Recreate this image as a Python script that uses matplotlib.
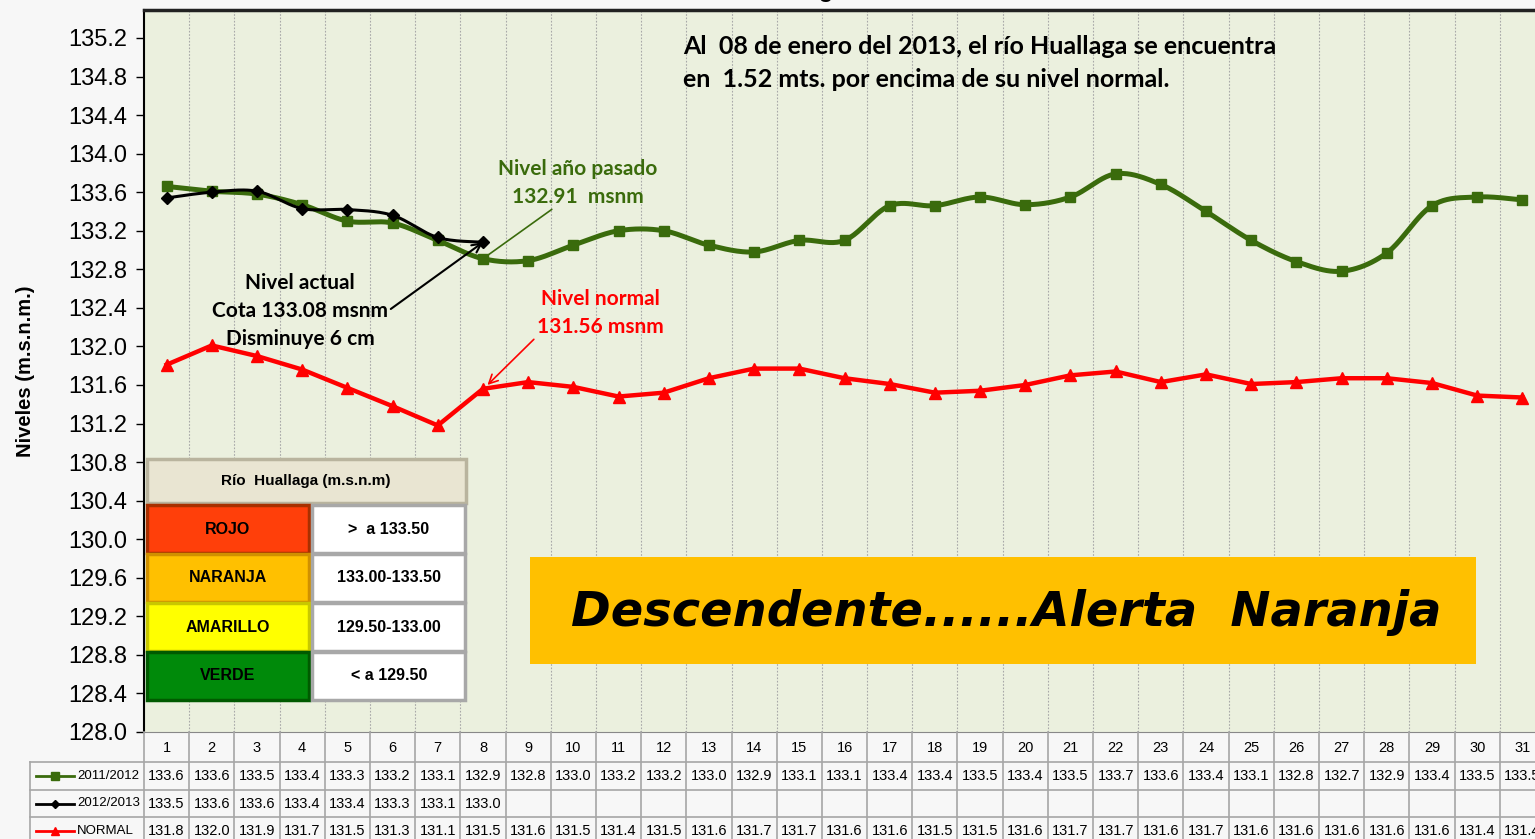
import numpy as np
import matplotlib.pyplot as plt
from matplotlib.patches import Rectangle
from matplotlib.lines import Line2D
from matplotlib.transforms import blended_transform_factory

# Data
days = np.arange(1, 32)
nivel_2011_2012 = [133.66, 133.61, 133.58, 133.47, 133.30, 133.28, 133.10, 132.91,
                   132.89, 133.05, 133.20, 133.20, 133.05, 132.98, 133.10, 133.10,
                   133.46, 133.46, 133.55, 133.47, 133.55, 133.79, 133.68, 133.40,
                   133.10, 132.88, 132.78, 132.97, 133.46, 133.55, 133.52]
nivel_2012_2013 = [133.54, 133.60, 133.61, 133.43, 133.42, 133.36, 133.13, 133.08]
nivel_normal = [131.81, 132.01, 131.90, 131.76, 131.57, 131.38, 131.18, 131.56,
                131.63, 131.58, 131.48, 131.52, 131.67, 131.77, 131.77, 131.67,
                131.61, 131.52, 131.54, 131.60, 131.70, 131.74, 131.63, 131.71,
                131.61, 131.63, 131.67, 131.67, 131.62, 131.49, 131.47]
yticks = np.round(np.arange(128.0, 135.21, 0.4), 1)

alert_names = ['ROJO', 'NARANJA', 'AMARILLO', 'VERDE']
alert_ranges = ['>  a 133.50', '133.00-133.50', '129.50-133.00', '< a 129.50']
alert_colors = ['#ff3f0a', '#ffc000', '#ffff00', '#008a0a']
alert_edges = ['#a83000', '#d09000', '#c8c800', '#005a00']

GREEN = '#3a6b0c'
RED = '#ff0000'
W, H = 1535, 839


def fx(px):
    return px / W


def fy(py):
    return 1 - py / H


def smooth(x, y, n=24):
    # Catmull-Rom curve through the points (Excel "smoothed line" look)
    pts = np.column_stack([x, y]).astype(float)
    P = np.vstack([pts[0], pts, pts[-1]])
    t = np.linspace(0, 1, n, endpoint=False)[:, None]
    out = []
    for i in range(len(pts) - 1):
        p0, p1, p2, p3 = P[i], P[i + 1], P[i + 2], P[i + 3]
        out.append(0.5 * (2 * p1 + (-p0 + p2) * t + (2 * p0 - 5 * p1 + 4 * p2 - p3) * t ** 2
                          + (-p0 + 3 * p1 - 3 * p2 + p3) * t ** 3))
    out.append(pts[-1:])
    c = np.vstack(out)
    return c[:, 0], c[:, 1]


def trunc(v):
    return f"{np.floor(v * 10 + 1e-6) / 10:.1f}"


fig = plt.figure(figsize=(W / 100, H / 100), dpi=100, facecolor='#f7f7f7')
ax = fig.add_axes([fx(144), fy(732), fx(1545) - fx(144), fy(10) - fy(732)])
ax.set_facecolor('#ebf0de')
ax.set_xlim(0.5, 31.5)
ax.set_ylim(128.0, 135.49)
ax.set_yticks(yticks)
ax.set_yticklabels([f"{v:.1f}" for v in yticks], fontsize=17, family='Liberation Sans')
ax.tick_params(axis='y', length=6, width=1, direction='out', pad=6)
ax.set_xticks([])
for x in np.arange(1.5, 31.5, 1):
    ax.axvline(x, color='#a8a8a8', lw=0.8, ls=(0, (1.5, 1.5)), zorder=0)
ax.spines['left'].set_linewidth(1.5)
ax.spines['top'].set_linewidth(2.5)
ax.spines['top'].set_color('#222222')
ax.spines['bottom'].set_color('#888888')
ax.set_ylabel('Niveles (m.s.n.m.)', fontsize=14.5, fontweight='bold',
              family='Liberation Sans', labelpad=24)

# title (cut off at the top of the picture)
fig.text(0.505, fy(-3), 'Río Huallaga', ha='center', va='baseline', fontsize=17,
         fontweight='bold', family='Liberation Sans')

# series
sx, sy = smooth(days, nivel_2011_2012)
ax.plot(sx, sy, color=GREEN, lw=3.6, zorder=3, solid_capstyle='round')
ax.plot(days, nivel_2011_2012, ls='none', marker='s', ms=7, color=GREEN, zorder=4)
bx, by = smooth(days[:len(nivel_2012_2013)], nivel_2012_2013)
ax.plot(bx, by, color='black', lw=2.2, zorder=5)
ax.plot(days[:len(nivel_2012_2013)], nivel_2012_2013, ls='none', marker='D', ms=6,
        color='black', zorder=6)
ax.plot(days, nivel_normal, color=RED, lw=3.2, marker='^', ms=8, zorder=3)

# annotations
afont = dict(family='Lato', fontweight='bold', fontsize=15)
ax.text(fx(683), fy(63), 'Al  08 de enero del 2013, el río Huallaga se encuentra\n'
        'en  1.52 mts. por encima de su nivel normal.', transform=fig.transFigure,
        ha='left', va='center', linespacing=1.55, family='Lato', fontweight='bold',
        fontsize=18)
d8 = len(nivel_2012_2013)
ax.annotate('Nivel año pasado\n132.91  msnm', xy=(d8, nivel_2011_2012[d8 - 1]),
            xytext=(fx(578), fy(183)), textcoords='figure fraction', ha='center',
            va='center', color=GREEN, linespacing=1.45,
            arrowprops=dict(arrowstyle='-', color=GREEN, lw=1.2, shrinkA=0, shrinkB=2,
                            relpos=(0.36, 0.0)),
            **afont)
ax.annotate('Nivel actual\nCota 133.08 msnm\nDisminuye 6 cm', xy=(d8, nivel_2012_2013[-1]),
            xytext=(fx(300), fy(311)), textcoords='figure fraction', ha='center',
            va='center', color='black', linespacing=1.5, zorder=7,
            arrowprops=dict(arrowstyle='->', color='black', lw=1.5, shrinkA=0,
                            shrinkB=0, relpos=(1.0, 0.5), mutation_scale=16),
            **afont)
ax.annotate('Nivel normal\n131.56 msnm', xy=(d8 + 0.1, nivel_normal[d8 - 1] + 0.04),
            xytext=(fx(600), fy(313)), textcoords='figure fraction', ha='center',
            va='center', color=RED, linespacing=1.45,
            arrowprops=dict(arrowstyle='->', color=RED, lw=1.2, shrinkA=0,
                            shrinkB=0, relpos=(0.0, 0.0), mutation_scale=16),
            **afont)

# alert level box
tf = fig.transFigure


def bevel_box(x0, y0, x1, y1, color, edge):
    ax.add_patch(Rectangle((fx(x0), fy(y1)), fx(x1) - fx(x0), fy(y0) - fy(y1),
                           transform=tf, facecolor=color, edgecolor=edge, lw=2.5,
                           zorder=8, clip_on=False))


bevel_box(147, 459, 466, 503, '#e9e5d2', '#b9b49e')
ax.text(fx(306), fy(481), 'Río  Huallaga (m.s.n.m)', transform=tf, ha='center',
        va='center', fontsize=11, fontweight='bold', family='Liberation Sans', zorder=9)
row_top = 505
for i, (name, rng, col, edge) in enumerate(zip(alert_names, alert_ranges,
                                                alert_colors, alert_edges)):
    y0 = row_top + i * 49
    y1 = y0 + 48
    bevel_box(147, y0, 309, y1, col, edge)
    bevel_box(312, y0, 465, y1, 'white', '#a8a8a8')
    ax.text(fx(228), fy((y0 + y1) / 2), name, transform=tf, ha='center', va='center',
            fontsize=11.5, fontweight='bold', family='Liberation Sans', zorder=9)
    ax.text(fx(389), fy((y0 + y1) / 2), rng, transform=tf, ha='center', va='center',
            fontsize=11.5, fontweight='bold', family='Liberation Sans', zorder=9)

# status banner
ax.add_patch(Rectangle((fx(530), fy(664)), fx(1476) - fx(530), fy(557) - fy(664),
                       transform=tf, facecolor='#ffc000', edgecolor='none', zorder=8))
ax.text(fx(1006), fy(612), 'Descendente......Alerta  Naranja', transform=tf,
        ha='center', va='center', fontsize=34.5, fontweight='heavy', style='italic',
        family='DejaVu Sans', zorder=9)

# data table below the chart
bt = blended_transform_factory(ax.transData, tf)
row_edges = [732, 762, 790, 817, 845]
grid = '#a6a6a6'
for yy in row_edges[1:]:
    fig.add_artist(Line2D([fx(30), fx(1545)], [fy(yy), fy(yy)], color=grid, lw=1.2))
fig.add_artist(Line2D([fx(30), fx(30)], [fy(762), fy(845)], color=grid, lw=1.2))
for xb in np.arange(0.5, 32, 1):
    fig.add_artist(Line2D([xb, xb], [fy(732), fy(845)], color=grid, lw=1.2, transform=bt))

rows = [('2011/2012', GREEN, 's', nivel_2011_2012),
        ('2012/2013', 'black', 'D', nivel_2012_2013),
        ('NORMAL', RED, '^', nivel_normal)]
tfont = dict(family='Liberation Sans', fontsize=10.5)
for d in days:
    fig.text(d, fy(748), str(d), transform=bt, ha='center', va='center', **tfont)
for r, (lab, col, mk, vals) in enumerate(rows):
    yc = fy((row_edges[r + 1] + row_edges[r + 2]) / 2)
    fig.add_artist(Line2D([fx(36), fx(74)], [yc, yc], color=col, lw=2))
    fig.add_artist(Line2D([fx(55)], [yc], color=col, marker=mk, ms=6 if mk != 'D' else 4.5))
    fig.text(fx(77), yc, lab, ha='left', va='center', family='Liberation Sans', fontsize=9.5)
    for d, v in zip(days, vals):
        fig.text(d, yc, trunc(v), transform=bt, ha='center', va='center', **tfont)

fig.savefig('out.png', dpi=100, facecolor=fig.get_facecolor())
